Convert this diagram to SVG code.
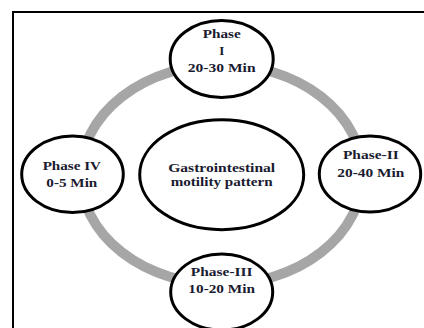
<svg xmlns="http://www.w3.org/2000/svg" width="424" height="328" viewBox="0 0 424 328">
<style>
.node{fill:#fff;stroke:#000;stroke-width:3}
.t{font-family:"Liberation Serif","Times New Roman",serif;font-weight:bold;font-size:13px;fill:#1a1a30;text-anchor:middle}
.c{font-size:12px}
</style>
<rect x="0" y="0" width="424" height="328" fill="#fff"/>
<path d="M13,328 V12 H424" fill="none" stroke="#000" stroke-width="2"/>
<g id="connectors">
<ellipse cx="221.5" cy="174.5" rx="141" ry="110" fill="none" stroke="#a6a6a6" stroke-width="10"/>
</g>
<g id="center">
<ellipse class="node" cx="221.7" cy="174.7" rx="82" ry="55"/>
<text class="t c" x="221.7" y="171.5" textLength="107" lengthAdjust="spacingAndGlyphs">Gastrointestinal</text>
<text class="t c" x="221.7" y="185.5" textLength="102" lengthAdjust="spacingAndGlyphs">motility pattern</text>
</g>
<g id="phase1">
<ellipse class="node" cx="221.7" cy="59" rx="51.5" ry="38.5"/>
<text class="t" x="221.7" y="38" textLength="38" lengthAdjust="spacingAndGlyphs">Phase</text>
<text class="t" x="221.7" y="55">I</text>
<text class="t" x="221.7" y="71.7" textLength="67.7" lengthAdjust="spacingAndGlyphs">20-30 Min</text>
</g>
<g id="phase2">
<ellipse class="node" cx="370" cy="174" rx="50.7" ry="38"/>
<text class="t" x="370.8" y="159.3" textLength="55.7" lengthAdjust="spacingAndGlyphs">Phase-II</text>
<text class="t" x="370.8" y="176.7" textLength="67" lengthAdjust="spacingAndGlyphs">20-40 Min</text>
</g>
<g id="phase3">
<ellipse class="node" cx="221.7" cy="292" rx="51" ry="38"/>
<text class="t" x="221.7" y="276" textLength="61.7" lengthAdjust="spacingAndGlyphs">Phase-III</text>
<text class="t" x="221.7" y="292.7" textLength="66.7" lengthAdjust="spacingAndGlyphs">10-20 Min</text>
</g>
<g id="phase4">
<ellipse class="node" cx="72.5" cy="174.3" rx="50.8" ry="38.3"/>
<text class="t" x="71.8" y="170" textLength="58.3" lengthAdjust="spacingAndGlyphs">Phase IV</text>
<text class="t" x="71.8" y="187.3" textLength="51" lengthAdjust="spacingAndGlyphs">0-5 Min</text>
</g>
</svg>
